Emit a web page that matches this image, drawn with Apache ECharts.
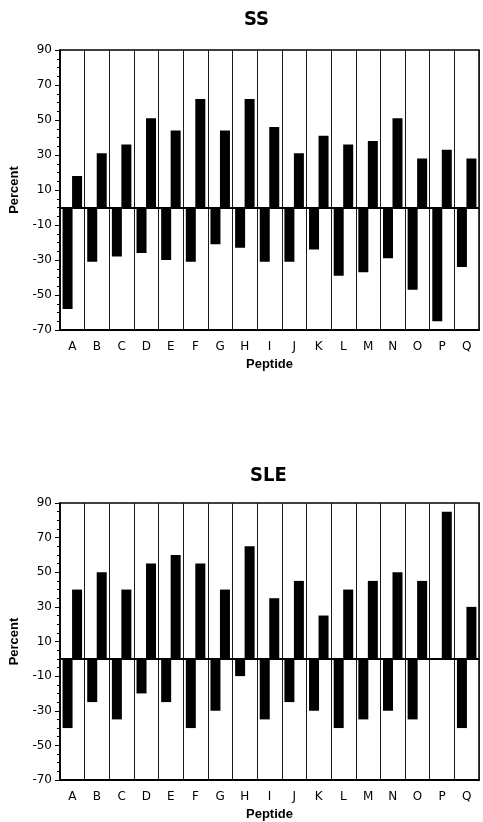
<!DOCTYPE html>
<html>
<head>
<meta charset="utf-8">
<script src="https://cdn.jsdelivr.net/npm/echarts@6/dist/echarts.min.js"></script>
<style>
html,body{margin:0;padding:0;background:#fff;}
#chart{width:483px;height:822px;}
</style>
</head>
<body>
<div id="chart"></div>
<script>
const categories = ['A','B','C','D','E','F','G','H','I','J','K','L','M','N','O','P','Q'];
const ssNeg  = [-58,-31,-28,-26,-30,-31,-21,-23,-31,-31,-24,-39,-37,-29,-47,-65,-34];
const ssPos  = [18,31,36,51,44,62,44,62,46,31,41,36,38,51,28,33,28];
const sleNeg = [-40,-25,-35,-20,-25,-40,-30,-10,-35,-25,-30,-40,-35,-30,-35,0,-40];
const slePos = [40,50,40,55,60,55,40,65,35,45,25,40,45,50,45,85,30];
const panelTitles = ['SS','SLE'];
const yMin = -70, yMax = 90, yStep = 20;

const labelFont = '"DejaVu Sans", "Liberation Sans", sans-serif';
const boldFont = '"Liberation Sans", Arial, sans-serif';

function xAxisFor(i){
  return {
    type:'category', gridIndex:i, data:categories,
    axisLine:{onZero:false, lineStyle:{color:'#000', width:2}},
    axisTick:{show:false},
    axisLabel:{color:'#000', fontSize:12, fontFamily:labelFont, margin:11},
    splitLine:{show:true, lineStyle:{color:'#1a1a1a', width:1}},
    name:'Peptide', nameLocation:'middle', nameGap:28,
    nameTextStyle:{color:'#000', fontSize:13, fontWeight:'bold', fontFamily:boldFont}
  };
}
function yAxisFor(i){
  return {
    type:'value', gridIndex:i, min:yMin, max:yMax, interval:yStep,
    axisLine:{show:true, lineStyle:{color:'#000', width:1.5}},
    axisTick:{show:true, length:5, lineStyle:{color:'#000'}},
    minorTick:{show:true, splitNumber:4, length:3, lineStyle:{color:'#000'}},
    splitLine:{show:false},
    axisLabel:{color:'#000', fontSize:12, fontFamily:labelFont, margin:8},
    name:'Percent', nameLocation:'middle', nameGap:39, nameRotate:90,
    nameTextStyle:{color:'#000', fontSize:13, fontWeight:'bold', fontFamily:boldFont}
  };
}
function barSeries(i, data, withZero){
  const s = {
    type:'bar', xAxisIndex:i, yAxisIndex:i, data:data,
    barWidth:10, barGap:'-5%',
    itemStyle:{color:'#000'}, silent:true, animation:false
  };
  if(withZero){
    s.markLine = {
      silent:true, symbol:'none', label:{show:false},
      lineStyle:{color:'#000', width:2, type:'solid'},
      data:[{yAxis:0}], animation:false
    };
  }
  return s;
}

const chart = echarts.init(document.getElementById('chart'));
chart.setOption({
  animation:false,
  backgroundColor:'#fff',
  title:[
    {text:panelTitles[0], left:244, top:10, padding:0,
     textStyle:{fontSize:20, fontWeight:'bold', color:'#000', fontFamily:'"DejaVu Sans Condensed", "Liberation Sans Narrow", sans-serif'}},
    {text:panelTitles[1], left:250, top:466, padding:0,
     textStyle:{fontSize:20, fontWeight:'bold', color:'#000', fontFamily:'"DejaVu Sans Condensed", "Liberation Sans Narrow", sans-serif'}}
  ],
  grid:[
    {left:58, top:50, right:4, height:280, show:true, borderColor:'#000', borderWidth:1.5, backgroundColor:'transparent'},
    {left:55, top:503, right:4, height:279, show:true, borderColor:'#000', borderWidth:1.5, backgroundColor:'transparent'}
  ],
  xAxis:[xAxisFor(0), xAxisFor(1)],
  yAxis:[yAxisFor(0), yAxisFor(1)],
  series:[
    barSeries(0, ssNeg, true),
    barSeries(0, ssPos, false),
    barSeries(1, sleNeg, true),
    barSeries(1, slePos, false)
  ]
});
</script>
</body>
</html>
